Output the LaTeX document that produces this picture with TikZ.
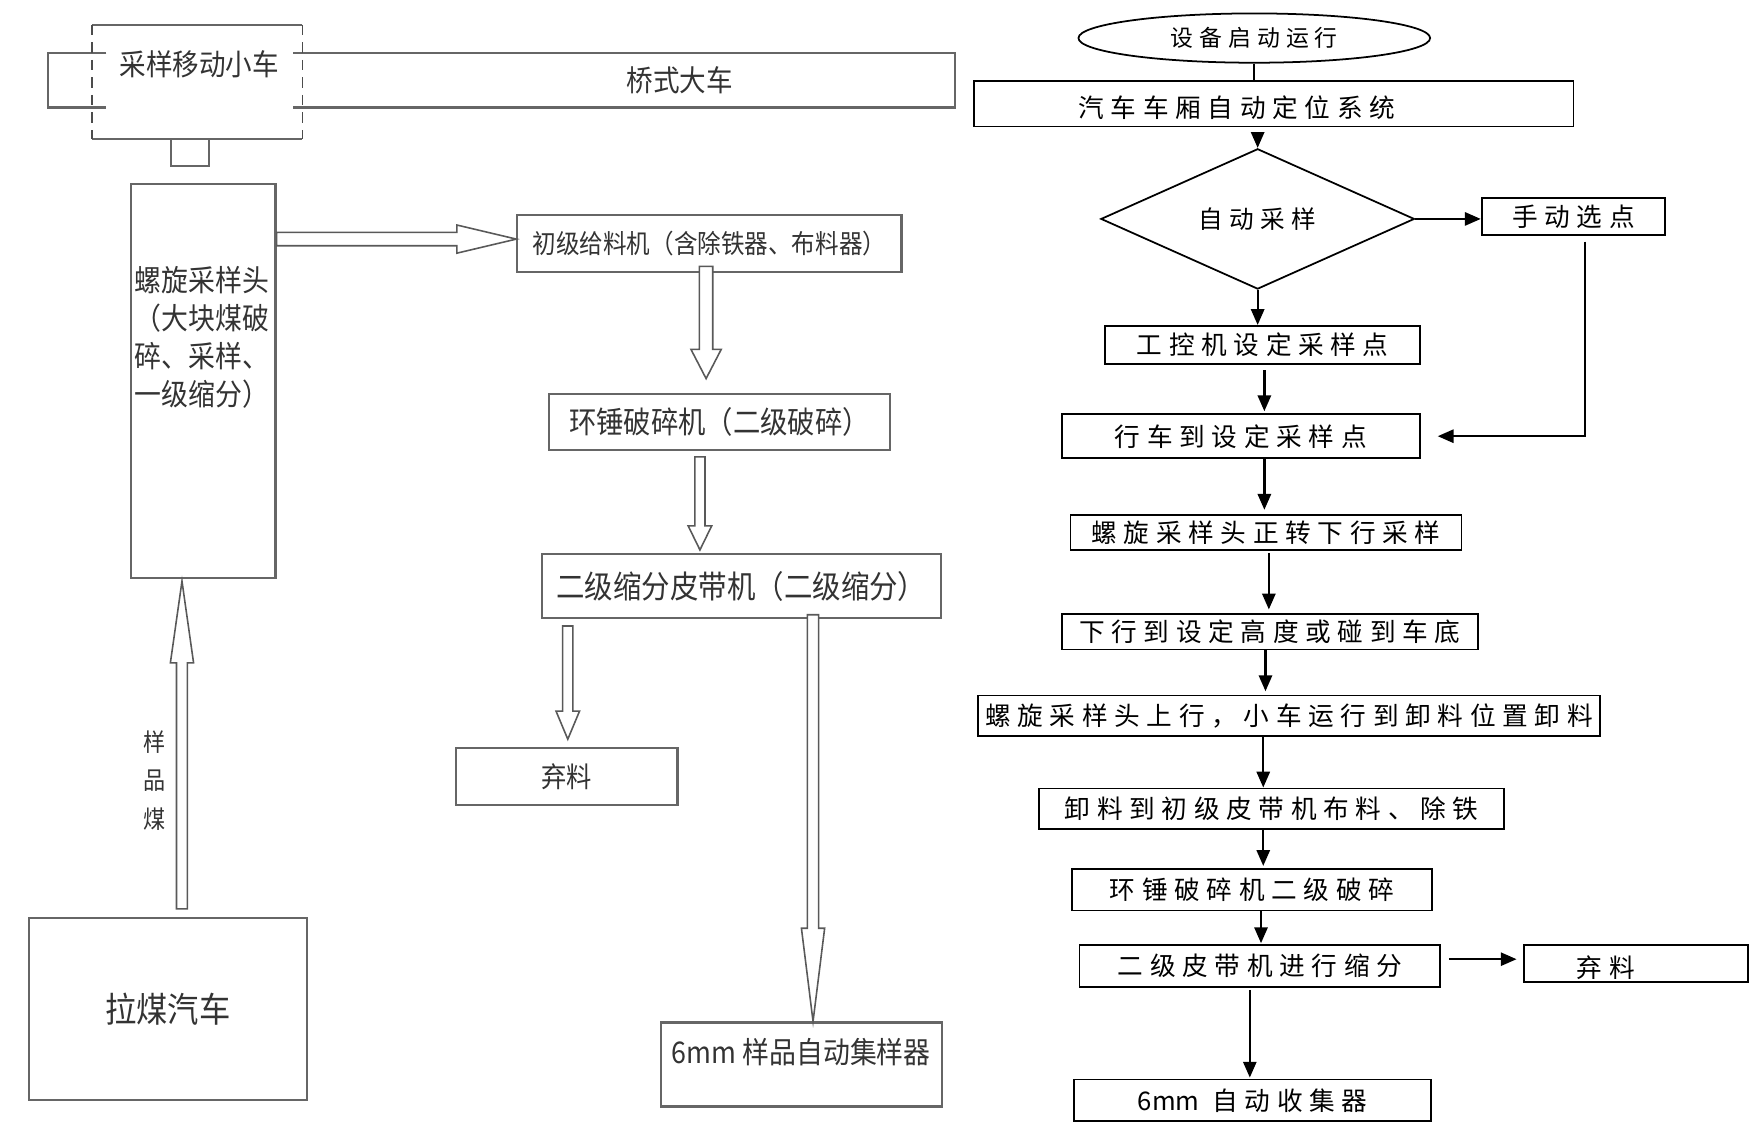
\documentclass[tikz,border=0pt]{standalone}
\usepackage{fontspec}
\usepackage{tikz}
\usetikzlibrary{arrows.meta,calc,positioning,shapes.geometric}

\newfontfamily\cjknarrow[FakeStretch=0.9]{Noto Sans CJK SC}
\newfontfamily\cjkwide[LetterSpace=26]{Noto Sans CJK SC}
\newfontfamily\cjkplain{Noto Sans CJK SC}

% hollow arrow: start, end, half shaft, half head, head length
\newcommand{\hollowarrow}[5]{%
  \coordinate (ha) at #1;
  \coordinate (hb) at #2;
  \coordinate (hn) at ($(hb)!#5!(ha)$);
  \draw[hollow] ($(ha)!#3!90:(hb)$) -- ($(hn)!#3!-90:(ha)$)
    -- ($(hn)!#4!-90:(ha)$) -- (hb) -- ($(hn)!#4!90:(ha)$)
    -- ($(hn)!#3!90:(ha)$) -- ($(ha)!#3!-90:(hb)$) -- cycle;
}

\begin{document}
\begin{tikzpicture}[x=0.0224cm, y=-0.0224cm]

    % Define styles
    \tikzstyle{lbox} = [
        rectangle, draw=black!60, line width=1.2pt, fill=white,
        inner sep=0pt, text=black!80,
        font=\cjknarrow\fontsize{17}{21}\selectfont
    ]
    \tikzstyle{ltext} = [inner sep=0pt, text=black!80, font=\cjknarrow\fontsize{17}{21}\selectfont]
    \tikzstyle{frame} = [draw=black!60, line width=1.2pt]
    \tikzstyle{hollow} = [draw=black!65, line width=0.9pt, fill=white]
    \tikzstyle{rbox} = [
        rectangle, draw=black, line width=1pt, inner sep=0pt,
        font=\cjkwide\fontsize{14.6}{17}\selectfont
    ]
    \tikzstyle{arrow} = [line width=1.3pt, -{Triangle[length=9pt,width=7.5pt]}]

    \useasboundingbox (0,0) rectangle (1568,1007);

    % Left: crane and trolley
    \node[ltext, font=\cjknarrow\fontsize{16.8}{20}\selectfont] (trolley) at (178,57) {采样移动小车};
    \node[ltext, font=\cjknarrow\fontsize{16.8}{20}\selectfont] (bridge) at (607,72) {桥式大车};
    \draw[frame] (95,47) -- (43,47) -- (43,96) -- (95,96);
    \draw[frame] (262,47) -- (853,47) -- (853,96) -- (262,96);
    \draw[frame] (82,22) -- (270,22);
    \draw[frame] (82,124) -- (270,124);
    \draw[black!70, line width=0.8pt, dash pattern=on 6pt off 4pt] (82,22) -- (82,124);
    \draw[black!70, line width=0.8pt, dash pattern=on 6pt off 4pt] (270,22) -- (270,124);
    \draw[frame] (153,124) rectangle (187,148);

    % Left: equipment
    \node[lbox, minimum width=2.89cm, minimum height=7.885cm] (sampler) at (181.5,340) {};
    \node[ltext, align=left, anchor=west, font=\cjknarrow\fontsize{17}{21.7}\selectfont]
        (samplertext) at ($(sampler.west)+(4,-39)$) {螺旋采样头\\（大块煤破\\碎、采样、\\一级缩分）};
    \node[lbox, minimum width=7.683cm, minimum height=1.142cm,
        font=\cjknarrow\fontsize{14.9}{18}\selectfont] (feeder) at (633.5,217.5) {初级给料机（含除铁器、布料器）};
    \node[lbox, minimum width=6.832cm, minimum height=1.12cm,
        font=\cjknarrow\fontsize{17.3}{20}\selectfont] (ring) at (642.5,377) {环锤破碎机（二级破碎）};
    \node[lbox, minimum width=7.974cm, minimum height=1.277cm,
        font=\cjknarrow\fontsize{18}{21}\selectfont] (split) at (662,523.5) {二级缩分皮带机（二级缩分）};
    \node[lbox, minimum width=4.435cm, minimum height=1.142cm,
        font=\cjknarrow\fontsize{16}{19}\selectfont] (discard) at (506,693.5) {弃料};
    \node[lbox, minimum width=5.622cm, minimum height=1.68cm, text depth=0.54cm] (collector) at (715.5,950.5) {6mm 样品自动集样器};
    \node[lbox, minimum width=5.555cm, minimum height=3.629cm,
        font=\cjknarrow\fontsize{19.8}{23}\selectfont] (truck) at (150,901) {拉煤汽车};
    \node[ltext, align=center, font=\cjknarrow\fontsize{14}{22}\selectfont] (coal) at (138,697) {样\\品\\煤};

    % Left: hollow arrows
    \hollowarrow{($(sampler.east |- feeder.west)+(0,-4)$)}{($(feeder.west)+(0,-4)$)}{3.8pt}{8pt}{33.8pt}
    \hollowarrow{($(feeder.south)+(-3,-6)$)}{($(ring.north)+(-12,-13)$)}{3.8pt}{8.6pt}{16.6pt}
    \hollowarrow{($(ring.south)+(-17.5,5)$)}{($(split.north)+(-37,-3)$)}{2.9pt}{6.7pt}{13.7pt}
    \hollowarrow{($(discard.north |- split.south)+(1,6)$)}{($(discard.north)+(1,-7)$)}{2.9pt}{6.7pt}{16pt}
    \hollowarrow{($(split.south)+(64,-4)$)}{($(collector.north)+(10.5,0)$)}{3.2pt}{6.6pt}{53pt}
    \hollowarrow{($(truck.north)+(12.5,-7.5)$)}{($(sampler.south)+(-19,2)$)}{3.1pt}{6.6pt}{46.5pt}

    % Right: flow chart nodes
    \node[rbox, ellipse, minimum width=7.034cm, minimum height=0.986cm,
        font=\cjkwide\fontsize{13}{15}\selectfont] (start) at (1120,34) {设备启动运行};
    \node[rbox, minimum width=11.984cm, minimum height=0.918cm, inner xsep=2.083cm,
        text width=7.818cm, align=left, text height=0.58cm] (locate) at (1137.5,92.5) {汽车车厢自动定位系统};
    \node[rbox, diamond, minimum width=6.272cm, minimum height=1.68cm,
        font=\cjkwide\fontsize{14}{16}\selectfont] (autosel) at (1123,195.5) {自动采样};
    \node[rbox, minimum width=3.674cm, minimum height=0.739cm] (manual) at (1405,193.5) {手动选点};
    \node[rbox, minimum width=6.294cm, minimum height=0.762cm] (ipc) at (1127.5,308) {工控机设定采样点};
    \node[rbox, minimum width=7.168cm, minimum height=0.874cm] (travel) at (1108,389.5) {行车到设定采样点};
    \node[rbox, minimum width=7.818cm, minimum height=0.694cm] (descend) at (1130.5,475.5) {螺旋采样头正转下行采样};
    \node[rbox, minimum width=8.333cm, minimum height=0.717cm] (reach) at (1134,564) {下行到设定高度或碰到车底};
    \node[rbox, minimum width=12.454cm, minimum height=0.806cm] (ascend) at (1151,639) {螺旋采样头上行，小车运行到卸料位置卸料};
    \node[rbox, minimum width=9.296cm, minimum height=0.806cm] (unload) at (1135.5,722) {卸料到初级皮带机布料、除铁};
    \node[rbox, minimum width=7.213cm, minimum height=0.829cm] (crush) at (1118,794.5) {环锤破碎机二级破碎};
    \node[rbox, minimum width=7.213cm, minimum height=0.829cm] (divide) at (1125,862.5) {二级皮带机进行缩分};
    \node[rbox, minimum width=4.48cm, minimum height=0.739cm, inner xsep=1.053cm,
        text width=2.374cm, align=left, text height=0.58cm] (reject) at (1461,860.5) {弃料};
    \node[rbox, minimum width=7.146cm, minimum height=0.829cm] (collect) at (1118.5,982.5) {{\cjkplain 6mm}\enspace 自动收集器};

    % Right: arrows
    \draw[line width=1.3pt] (start.south) -- (start.south |- locate.north);
    \draw[arrow] ($(locate.south -| autosel.north)+(0,10)$) -- (autosel.north);
    \draw[arrow] (autosel.east) -- (autosel.east -| manual.west);
    \draw[arrow] ($(manual.south)+(10,5)$) |- ($(travel.east)+(15,0)$);
    \draw[arrow] (autosel.south) -- (autosel.south |- ipc.north);
    \draw[arrow] ($(ipc.south)+(1.5,5)$) -- ($(ipc.south |- travel.north)+(1.5,-2)$);
    \draw[arrow] ($(descend.north |- travel.south)+(-1.5,0)$) -- ($(descend.north)+(-1.5,-4)$);
    \draw[arrow] ($(descend.south)+(2.5,2)$) -- ($(descend.south |- reach.north)+(2.5,-3)$);
    \draw[arrow] ($(reach.south)+(-4,0)$) -- ($(reach.south |- ascend.north)+(-4,-3)$);
    \draw[arrow] ($(unload.north |- ascend.south)+(-7.5,0)$) -- ($(unload.north)+(-7.5,0)$);
    \draw[arrow] ($(unload.south)+(-7.5,0)$) -- ($(unload.south |- crush.north)+(-7.5,-2)$);
    \draw[arrow] ($(crush.south)+(8,0)$) -- ($(crush.south |- divide.north)+(8,-1)$);
    \draw[arrow] ($(divide.east)+(7,-6)$) -- ($(reject.west)+(-6,-4)$);
    \draw[arrow] ($(collect.north |- divide.south)+(-2.5,2)$) -- ($(collect.north)+(-2.5,-1)$);

\end{tikzpicture}
\end{document}
